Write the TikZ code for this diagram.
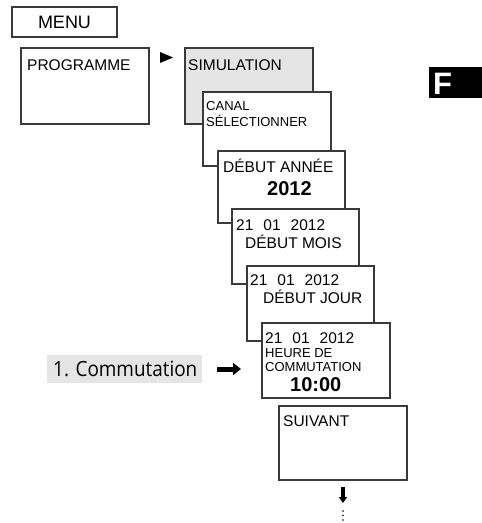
\documentclass[tikz,border=0pt]{standalone}
\usepackage{fontspec}
\setmainfont{Liberation Sans}
\newfontfamily\comfont{Open Sans}
\usetikzlibrary{arrows.meta}
\definecolor{edge}{HTML}{3A3A3A}
\definecolor{shade}{HTML}{E5E5E5}
\tikzset{
  screen/.style={draw=edge, line width=1.3pt, fill=white, anchor=north west, inner sep=0pt, outer sep=0pt},
  txt/.style={anchor=base west, inner sep=0pt, font=\fontsize{15.5}{16}\selectfont},
  small/.style={anchor=base west, inner sep=0pt, font=\fontsize{13}{14}\selectfont},
  big/.style={anchor=base west, inner sep=0pt, font=\fontsize{20}{22}\selectfont\bfseries},
  bigarrow/.style={line width=5pt, -{Triangle[length=8pt,width=12pt]}},
  downarrow/.style={line width=4pt, -{Triangle[length=6pt,width=8pt]}},
}
\newcommand{\dgap}{\hspace{10pt}}
\begin{document}
\begin{tikzpicture}[x=1pt,y=-1pt]
\useasboundingbox (0,0) rectangle (482,523);
% MENU
\node[screen, minimum width=105pt, minimum height=30pt] (menu) at (12,7) {};
\node[anchor=base, inner sep=0pt, font=\fontsize{18}{20}\selectfont] (menut) at (64.5,28) {MENU};
% PROGRAMME
\node[screen, minimum width=128pt, minimum height=76pt] (prog) at (21,48) {};
\node[txt] (progt) at (27,70) {PROGRAMME};
% triangle
\fill[black] (160,52) -- (173,57.5) -- (160,63) -- cycle;
% SIMULATION
\node[screen, fill=shade, minimum width=128pt, minimum height=76pt] (sim) at (185,48) {};
\node[txt] (simt) at (188,70) {SIMULATION};
% CANAL
\node[screen, minimum width=128pt, minimum height=74pt] (canal) at (203,92) {};
\node[small] (canalt1) at (206,110) {CANAL};
\node[small] (canalt2) at (206,126) {SÉLECTIONNER};
% DEBUT ANNEE
\node[screen, minimum width=127pt, minimum height=72pt] (annee) at (218,151) {};
\node[txt] (anneet1) at (223,172) {DÉBUT ANNÉE};
\node[big] (anneet2) at (267,195) {2012};
% DEBUT MOIS
\node[screen, minimum width=127pt, minimum height=75pt] (mois) at (232,209) {};
\node[txt] (moist1) at (236,230) {21\dgap 01\dgap 2012};
\node[txt] (moist2) at (245,248) {DÉBUT MOIS};
% DEBUT JOUR
\node[screen, minimum width=127pt, minimum height=75pt] (jour) at (247,266) {};
\node[txt] (jourt1) at (250,285) {21\dgap 01\dgap 2012};
\node[txt] (jourt2) at (263,303) {DÉBUT JOUR};
% HEURE
\node[screen, minimum width=128pt, minimum height=75pt] (heure) at (262,323) {};
\node[txt] (heuret1) at (265,343) {21\dgap 01\dgap 2012};
\node[small] (heuret2) at (265,357) {HEURE DE};
\node[small] (heuret3) at (265,371) {COMMUTATION};
\node[big] (heuret4) at (290,391) {10:00};
% SUIVANT
\node[screen, minimum width=128pt, minimum height=74pt] (suiv) at (279,406) {};
\node[txt] (suivt) at (283,426) {SUIVANT};
% 1. Commutation
\node[fill=shade, text=black, anchor=north west, inner sep=0pt, minimum width=155pt, minimum height=28pt] (commbg) at (47,355) {};
\node[anchor=base west, inner sep=0pt, text=black, font=\comfont\fontsize{21}{22}\selectfont] (comm) at (53,376) {\scalebox{0.9}[1]{1. Commutation}};
\coordinate (ca) at (217,369);
\coordinate (cb) at (241,369);
\draw[bigarrow] (ca) -- (cb);
% down arrow
\coordinate (da) at (343,487);
\coordinate (db) at (343,503);
\draw[downarrow] (da) -- (db);
\foreach \yy in {511,515.5,520} \fill (343,\yy) circle (0.9);
% F tab
\fill[black] (429,67) rectangle (482,98);
\node[anchor=base west, inner sep=0pt, text=white, font=\fontsize{31}{32}\selectfont\bfseries] (ftab) at (433,94) {F};
\end{tikzpicture}
\end{document}
